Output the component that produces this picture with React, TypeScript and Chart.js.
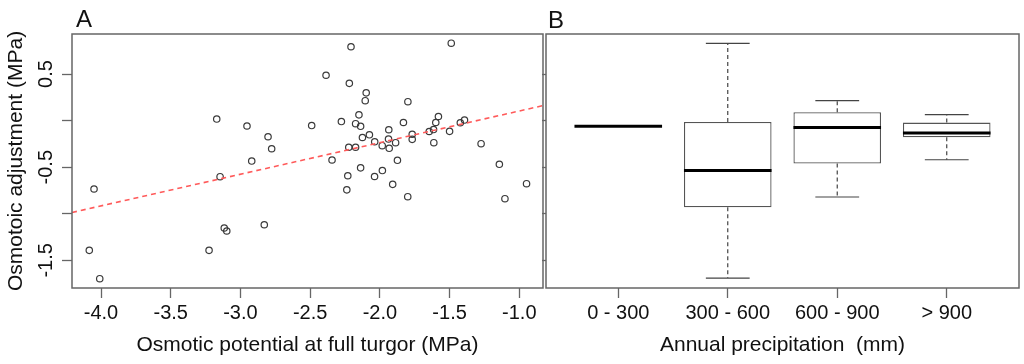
import { useEffect, useRef } from 'react';
import { Chart, registerables } from 'chart.js';

Chart.register(...registerables);

const FONT = "'Liberation Sans', Arial, Helvetica, sans-serif";
const TEXT = '#111111';
const FRAME = '#666666';

// Panel A: osmotic potential at full turgor (x) vs osmotic adjustment (y)
const potentialX = [
  -4.05, -4.084, -4.009, -3.225, -3.17, -3.146, -3.116, -3.098, -2.953, -2.919,
  -2.829, -2.802, -2.776, -2.489, -2.386, -2.343, -2.276, -2.237, -2.23, -2.223,
  -2.219, -2.207, -2.174, -2.174, -2.15, -2.138, -2.138, -2.125, -2.105, -2.098,
  -2.075, -2.037, -2.038, -1.983, -1.982, -1.936, -1.938, -1.933, -1.908, -1.887,
  -1.874, -1.831, -1.799, -1.8, -1.768, -1.768, -1.646, -1.615, -1.613, -1.599,
  -1.58, -1.5, -1.488, -1.423, -1.393, -1.274, -1.143, -1.103, -0.948,
];
const adjustmentY = [
  -0.734, -1.393, -1.697, -1.393, 0.017, -0.602, -1.153, -1.185, -0.058, -0.434,
  -1.118, -0.173, -0.302, -0.053, 0.487, -0.423, -0.01, -0.743, -0.592, -0.286,
  0.4, 0.793, -0.033, -0.286, 0.062, -0.061, -0.507, -0.181, 0.214, 0.298,
  -0.152, -0.227, -0.6, -0.269, -0.536, -0.098, -0.198, -0.297, -0.684, -0.237,
  -0.426, -0.02, 0.203, -0.817, -0.147, -0.201, -0.117, -0.096, -0.237, -0.02,
  0.044, -0.115, 0.831, -0.023, 0.006, -0.248, -0.469, -0.838, -0.677,
];
const fitLineX = [-4.208, -0.83];
const fitLineY = [-0.986, 0.161];

const xTicksA = [-4, -3.5, -3, -2.5, -2, -1.5, -1];
const yTicks = [-1.5, -1, -0.5, 0, 0.5];
const yTickLabels = ['-1.5', '', '-0.5', '', '0.5'];
const X_MIN_A = -4.208;
const X_MAX_A = -0.83;
const Y_MIN = -1.797;
const Y_MAX = 0.93;

// Panel B: boxplots by annual precipitation class
const precipCategories = ['0 - 300', '300 - 600', '600 - 900', '> 900'];
const boxMin = [-0.06, -1.69, -0.82, -0.42];
const boxQ1 = [-0.06, -0.93, -0.46, -0.178];
const boxMedian = [-0.06, -0.536, -0.075, -0.132];
const boxQ3 = [-0.06, -0.014, 0.09, -0.021];
const boxMax = [-0.06, 0.83, 0.214, 0.064];
const categoryPositions = [1, 2, 3, 4];

const tickGrid = (len: number) => ({
  drawOnChartArea: false,
  drawTicks: true,
  tickLength: len,
  tickColor: FRAME,
  tickWidth: 1.3,
  offset: false,
});

const framePlugin = (letter: string, lx: number, ly: number, yLabels: boolean) => ({
  id: 'frame' + letter,
  afterDraw(chart: any) {
    const { ctx, chartArea } = chart;
    ctx.save();
    ctx.strokeStyle = FRAME;
    ctx.lineWidth = 1.5;
    ctx.strokeRect(chartArea.left, chartArea.top, chartArea.right - chartArea.left, chartArea.bottom - chartArea.top);
    ctx.fillStyle = TEXT;
    ctx.font = `24px ${FONT}`;
    ctx.textAlign = 'left';
    ctx.textBaseline = 'alphabetic';
    ctx.fillText(letter, lx, ly);
    if (yLabels) {
      const ys = chart.scales.y;
      ctx.font = `20px ${FONT}`;
      ctx.textAlign = 'center';
      ctx.textBaseline = 'middle';
      yTicks.forEach((v, i) => {
        const label = yTickLabels[i];
        if (!label) return;
        ctx.save();
        ctx.translate(46, ys.getPixelForValue(v));
        ctx.rotate(-Math.PI / 2);
        ctx.fillText(label, 0, 0);
        ctx.restore();
      });
    }
    ctx.restore();
  },
});

const whiskerPlugin = {
  id: 'whiskers',
  afterDatasetsDraw(chart: any) {
    const { ctx } = chart;
    const xs = chart.scales.x;
    const ys = chart.scales.y;
    const half = xs.getPixelForValue(1.4) - xs.getPixelForValue(1);
    const capHalf = half / 2;
    ctx.save();
    categoryPositions.forEach((pos, i) => {
      const cx = xs.getPixelForValue(pos);
      const yQ1 = ys.getPixelForValue(boxQ1[i]);
      const yQ3 = ys.getPixelForValue(boxQ3[i]);
      const yMin = ys.getPixelForValue(boxMin[i]);
      const yMax = ys.getPixelForValue(boxMax[i]);
      const yMed = ys.getPixelForValue(boxMedian[i]);
      ctx.strokeStyle = '#444';
      ctx.lineWidth = 1.2;
      ctx.setLineDash([4, 3]);
      ctx.beginPath();
      ctx.moveTo(cx, yQ3);
      ctx.lineTo(cx, yMax);
      ctx.moveTo(cx, yQ1);
      ctx.lineTo(cx, yMin);
      ctx.stroke();
      ctx.setLineDash([]);
      ctx.beginPath();
      ctx.moveTo(cx - capHalf, yMax);
      ctx.lineTo(cx + capHalf, yMax);
      ctx.moveTo(cx - capHalf, yMin);
      ctx.lineTo(cx + capHalf, yMin);
      ctx.stroke();
      ctx.strokeStyle = '#000';
      ctx.lineWidth = 3;
      ctx.beginPath();
      ctx.moveTo(cx - half, yMed);
      ctx.lineTo(cx + half, yMed);
      ctx.stroke();
    });
    ctx.restore();
  },
};

export default function App() {
  const refA = useRef<HTMLCanvasElement>(null);
  const refB = useRef<HTMLCanvasElement>(null);

  useEffect(() => {
    const chartA = new Chart(refA.current as HTMLCanvasElement, {
      type: 'scatter',
      data: {
        datasets: [
          {
            type: 'scatter',
            data: potentialX.map((x, i) => ({ x, y: adjustmentY[i] })),
            pointStyle: 'circle',
            pointRadius: 3.2,
            pointBorderWidth: 1.2,
            pointBorderColor: '#3a3a3a',
            pointBackgroundColor: 'rgba(0,0,0,0)',
            order: 2,
          } as any,
          {
            type: 'line',
            data: fitLineX.map((x, i) => ({ x, y: fitLineY[i] })),
            borderColor: '#ff5a5a',
            borderWidth: 1.6,
            borderDash: [5, 4],
            pointRadius: 0,
            fill: false,
            order: 1,
          } as any,
        ],
      },
      options: {
        responsive: false,
        animation: false,
        events: [],
        layout: { padding: { left: 0, right: 481, top: 34, bottom: 0 } },
        plugins: { legend: { display: false }, tooltip: { enabled: false } },
        scales: {
          x: {
            type: 'linear',
            min: X_MIN_A,
            max: X_MAX_A,
            afterBuildTicks: (s: any) => {
              s.ticks = xTicksA.map((v) => ({ value: v }));
            },
            afterFit: (s: any) => {
              s.height = 76;
            },
            grid: tickGrid(10),
            border: { display: false },
            ticks: {
              color: TEXT,
              font: { family: FONT, size: 20 },
              padding: 3,
              maxRotation: 0,
              autoSkip: false,
              callback: (v: any) => Number(v).toFixed(1),
            },
            title: {
              display: true,
              text: 'Osmotic potential at full turgor (MPa)',
              color: TEXT,
              font: { family: FONT, size: 21 },
              padding: { top: 4, bottom: 6 },
            },
          },
          y: {
            type: 'linear',
            min: Y_MIN,
            max: Y_MAX,
            afterBuildTicks: (s: any) => {
              s.ticks = yTicks.map((v) => ({ value: v }));
            },
            afterFit: (s: any) => {
              s.width = 72;
            },
            grid: tickGrid(10),
            border: { display: false },
            ticks: { display: false },
            title: {
              display: true,
              text: 'Osmotoic adjustment (MPa)',
              color: TEXT,
              font: { family: FONT, size: 21 },
              padding: { top: 4, bottom: 4 },
            },
          },
        },
      } as any,
      plugins: [framePlugin('A', 76, 27, true)],
    });

    const chartB = new Chart(refB.current as HTMLCanvasElement, {
      type: 'bar',
      data: {
        datasets: [
          {
            data: categoryPositions.map((x, i) => ({ x, y: [boxQ1[i], boxQ3[i]] })),
            backgroundColor: '#ffffff',
            borderColor: '#555555',
            borderWidth: 1.3,
            borderSkipped: false,
            categoryPercentage: 1,
            barPercentage: 0.8,
          } as any,
        ],
      },
      options: {
        responsive: false,
        animation: false,
        events: [],
        layout: { padding: { left: 516, right: 5, top: 34, bottom: 0 } },
        plugins: { legend: { display: false }, tooltip: { enabled: false } },
        scales: {
          x: {
            type: 'linear',
            min: 0.34,
            max: 4.66,
            offset: false,
            afterBuildTicks: (s: any) => {
              s.ticks = categoryPositions.map((v) => ({ value: v }));
            },
            afterFit: (s: any) => {
              s.height = 76;
            },
            grid: tickGrid(10),
            border: { display: false },
            ticks: {
              color: TEXT,
              font: { family: FONT, size: 20 },
              padding: 3,
              maxRotation: 0,
              autoSkip: false,
              callback: (v: any) => precipCategories[Math.round(Number(v)) - 1] ?? '',
            },
            title: {
              display: true,
              text: 'Annual precipitation  (mm)',
              color: TEXT,
              font: { family: FONT, size: 21 },
              padding: { top: 4, bottom: 6 },
            },
          },
          y: {
            type: 'linear',
            min: Y_MIN,
            max: Y_MAX,
            afterBuildTicks: (s: any) => {
              s.ticks = yTicks.map((v) => ({ value: v }));
            },
            afterFit: (s: any) => {
              s.width = 30;
            },
            grid: tickGrid(4),
            border: { display: false },
            ticks: { display: false },
          },
        },
      } as any,
      plugins: [whiskerPlugin, framePlugin('B', 548, 28, false)],
    });

    return () => {
      chartA.destroy();
      chartB.destroy();
    };
  }, []);

  const canvasStyle: any = { position: 'absolute', left: 0, top: 0 };
  return (
    <div style={{ position: 'absolute', left: 0, top: 0, width: 1024, height: 364, background: '#fff' }}>
      <canvas ref={refA} width={1024} height={364} style={canvasStyle} />
      <canvas ref={refB} width={1024} height={364} style={canvasStyle} />
    </div>
  );
}
